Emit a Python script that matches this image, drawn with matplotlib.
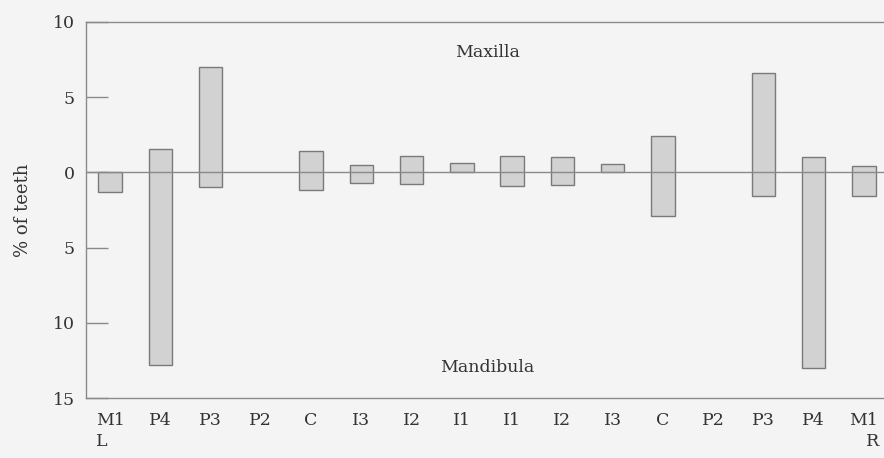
import matplotlib
matplotlib.use('Agg')
import matplotlib.pyplot as plt
import matplotlib.transforms as mtransforms
import numpy as np

teeth = ["M1", "P4", "P3", "P2", "C", "I3", "I2", "I1",
         "I1", "I2", "I3", "C", "P2", "P3", "P4", "M1"]
# % of teeth, upper jaw (up) and lower jaw (down)
maxilla = [0.0, 1.55, 7.0, 0.0, 1.4, 0.5, 1.1, 0.6,
           1.1, 1.05, 0.55, 2.45, 0.0, 6.6, 1.05, 0.4]
mandibula = [1.3, 12.8, 1.0, 0.0, 1.15, 0.7, 0.8, 0.0,
             0.9, 0.85, 0.0, 2.9, 0.0, 1.55, 13.0, 1.55]

plt.rcParams['font.family'] = 'DejaVu Serif'
txt = '#333333'
line = '#8a8a8a'

fig = plt.figure(figsize=(8.84, 4.58), dpi=100, facecolor='#f4f4f4')
ax = fig.add_axes([0.0973, 0.131, 0.9027, 0.821])
ax.set_facecolor('#f4f4f4')

x = np.arange(len(teeth))
lo = -np.array(mandibula)
hi = np.array(maxilla)
has = (hi - lo) > 0
ax.bar(x[has], (hi - lo)[has], bottom=lo[has], width=0.47, color='#d2d2d2',
       edgecolor='#7a7a7a', linewidth=1.0, zorder=2)
ax.axhline(0, color=line, linewidth=1.0, zorder=3)

ax.set_xlim(-0.48, 15.4)
ax.set_ylim(-15, 10)
ax.set_yticks([10, 5, 0, -5, -10, -15])
ax.set_yticklabels(["10", "5", "0", "5", "10", "15"])
ax.tick_params(axis='y', direction='in', length=16, width=1.0, color=line,
               labelsize=12.5, labelcolor=txt, pad=8)
ax.set_xticks(x)
ax.set_xticklabels(teeth)
ax.tick_params(axis='x', length=0, labelsize=12.5, labelcolor=txt, pad=10)

# side markers under the outer molars
trans = mtransforms.blended_transform_factory(ax.transData, fig.transFigure)
ax.text(x[0] - 0.28, 0.018, "L", transform=trans, ha='left', va='bottom',
        fontsize=12.5, color=txt)
ax.text(x[-1] + 0.3, 0.018, "R", transform=trans, ha='right', va='bottom',
        fontsize=12.5, color=txt)

for sp in ['top', 'bottom', 'left']:
    ax.spines[sp].set_color(line)
    ax.spines[sp].set_linewidth(1.0)
ax.spines['right'].set_visible(False)

ax.set_ylabel("% of teeth", fontsize=13, color=txt, labelpad=15)
ax.text(7.5, 8.0, "Maxilla", ha='center', va='center', fontsize=12.5, color=txt)
ax.text(7.5, -13.0, "Mandibula", ha='center', va='center', fontsize=12.5, color=txt)

plt.savefig("out.png", dpi=100, facecolor=fig.get_facecolor())
